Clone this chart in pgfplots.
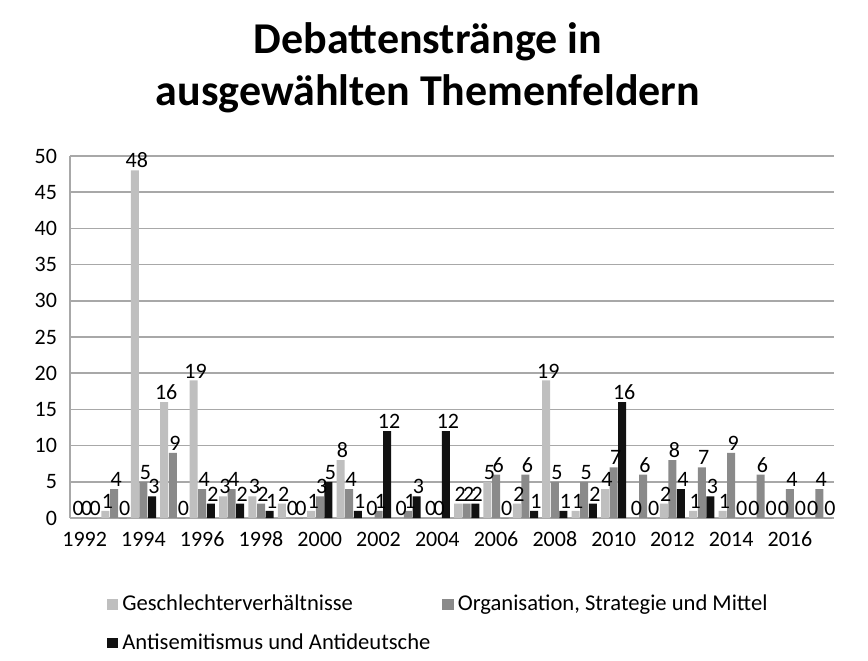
\documentclass[border=0pt]{standalone}
\usepackage{pgfplots}
\pgfplotsset{compat=1.18}
\usepackage{pgfplotstable}
\usepackage{fontspec}
\setmainfont{Carlito}

\definecolor{geschl}{HTML}{BFBFBF}
\definecolor{orga}{HTML}{8A8A8A}
\definecolor{anti}{HTML}{111111}
\definecolor{gridc}{HTML}{A8A8A8}

% Jahr (0 = 1992), Geschlecht, Organisation, Antisemitismus
\pgfplotstableread{
x  G  O  A
0  0  0  0
1  1  4  0
2  48 5  3
3  16 9  0
4  19 4  2
5  3  4  2
6  3  2  1
7  2  0  0
8  1  3  5
9  8  4  1
10 0  1  12
11 0  1  3
12 0  0  12
13 2  2  2
14 5  6  0
15 2  6  1
16 19 5  1
17 1  5  2
18 4  7  16
19 0  6  0
20 2  8  4
21 1  7  3
22 1  9  0
23 0  6  0
24 0  4  0
25 0  4  0
}\themen

\begin{document}
\begin{tikzpicture}
\begin{axis}[
  scale only axis,
  width=382pt, height=181pt,
  ybar=0.3pt, bar width=4pt,
  xmin=-0.5, xmax=25.5,
  ymin=0, ymax=50,
  ytick={0,5,...,50},
  xtick={0,2,...,24},
  xticklabels={1992,1994,1996,1998,2000,2002,2004,2006,2008,2010,2012,2014,2016},
  ymajorgrids, grid style={gridc, line width=0.8pt},
  axis x line*=bottom, axis y line*=left,
  axis line style={gridc, line width=0.8pt},
  major tick length=0pt,
  tick label style={font=\fontsize{11}{13}\selectfont},
  yticklabel style={xshift=-3pt},
  xticklabel style={yshift=-3pt, text height=1.6ex, text depth=0.2ex},
  /pgf/number format/assume math mode=true,
  nodes near coords,
  every node near coord/.append style={font=\fontsize{11}{13}\selectfont, inner sep=1pt, xshift=1pt},
  title={Debattenstränge in\\ausgewählten Themenfeldern},
  title style={font=\bfseries\fontsize{22}{26}\selectfont, align=center, yshift=12pt, xshift=-12pt},
  legend columns=2,
  legend cell align=left,
  legend style={at={(0.04,-0.19)}, anchor=north west, draw=none,
    font=\fontsize{11.3}{13}\selectfont, row sep=6pt,
    /tikz/every even column/.append style={column sep=4pt}},
  legend image code/.code={\fill[#1] (0cm,-0.09cm) rectangle (0.2cm,0.09cm);},
]
\addplot[fill=geschl, draw=none] table[x=x, y=G] {\themen};
\addplot[fill=orga, draw=none] table[x=x, y=O] {\themen};
\addplot[fill=anti, draw=none] table[x=x, y=A] {\themen};
\legend{Geschlechterverhältnisse, {Organisation, Strategie und Mittel}, Antisemitismus und Antideutsche}
\end{axis}
\path (-35pt,-70pt) rectangle (399pt,259pt);
\end{tikzpicture}
\end{document}
